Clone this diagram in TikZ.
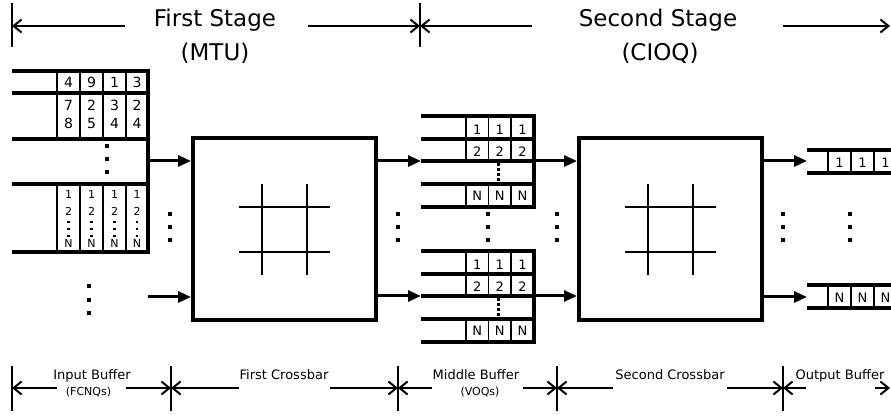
\documentclass[tikz,border=0pt]{standalone}
\usepackage{fontspec}
\setmainfont{DejaVu Sans}
\usetikzlibrary{arrows.meta}
\begin{document}
\begin{tikzpicture}[x=1pt,y=-1pt,
  thick line/.style={line width=4pt},
  cellbox/.style={draw,line width=1.2pt,fill=white},
  flow/.style={line width=3pt,-{Triangle[length=13pt,width=11pt]}},
  dimline/.style={line width=2pt,-{Straight Barb[length=8pt,width=13pt]}},
  ticks/.style={line width=2.2pt},
  grid line/.style={line width=2pt},
  sq/.style={fill=black,draw=none,minimum size=3.5pt,inner sep=0pt,outer sep=0pt},
  sqs/.style={fill=black,draw=none,minimum size=2.6pt,inner sep=0pt,outer sep=0pt},
  crossbar/.style={draw,line width=4pt,minimum width=183pt,minimum height=182pt,inner sep=0pt},
  big/.style={font=\fontsize{23}{28}\selectfont,inner sep=0pt,anchor=base},
  lab/.style={font=\fontsize{13}{15}\selectfont,inner sep=0pt,anchor=base},
  sublab/.style={font=\fontsize{11}{13}\selectfont,inner sep=0pt,anchor=base},
  dig/.style={font=\fontsize{14}{16}\selectfont,inner sep=0pt,anchor=base},
  mdig/.style={font=\fontsize{13}{15}\selectfont,inner sep=0pt,anchor=base},
  sdig/.style={font=\fontsize{11}{13}\selectfont,inner sep=0pt,anchor=base}
]
\useasboundingbox (0,0) rectangle (891,419);

% ---------------- top dimension ----------------
\node[big] (fs) at (215,27) {First Stage};
\node[big] (fsm) at (215,61) {(MTU)};
\node[big] (ss) at (658,27) {Second Stage};
\node[big] (ssm) at (660,61) {(CIOQ)};
\coordinate (tA) at (12,26);
\coordinate (tB) at (420,26);
\coordinate (tC) at (890,26);
\draw[ticks] (12,3) -- (12,47);
\draw[ticks] (420,3) -- (420,47);
\draw[dimline] (125,26) -- (tA);
\draw[dimline] (308,26) -- (tB);
\draw[dimline] (532,26) -- (tB);
\draw[dimline] (783,26) -- (tC);

% ---------------- input buffer ----------------
\foreach \x/\w in {57/23,80/23,103/23,126/22}{
  \draw[cellbox] (\x,71) rectangle ++(\w,22);
  \draw[cellbox] (\x,93) rectangle ++(\w,46);
  \draw[cellbox] (\x,184) rectangle ++(\w,68);
}
\foreach \x/\a in {68.5/4,91.5/9,114.5/1,137/3}{
  \node[dig] at (\x,87.5) {\a};
}
\foreach \x/\a/\b in {68.5/7/8,91.5/2/5,114.5/3/4,137/2/4}{
  \node[dig] at (\x,111) {\a};
  \node[dig] at (\x,129) {\b};
}
\foreach \x in {68.5,91.5,114.5,137}{
  \node[sdig] at (\x,199) {1};
  \node[sdig] at (\x,216) {2};
  \node[sqs] at (\x,222) {};
  \node[sqs] at (\x,229) {};
  \node[sqs] at (\x,236) {};
  \node[sdig] at (\x,247.5) {N};
}
\foreach \y in {93,139,184}{
  \draw[thick line] (12,\y) -- (148,\y);
}
\draw[thick line] (12,71) -- (148,71) -- (148,252) -- (12,252);
\foreach \y in {146,159,172}{ \node[sq] at (107,\y) {}; }
\foreach \y in {286,300,313}{ \node[sq] at (89,\y) {}; }

\coordinate (ib1) at (148,161);
\coordinate (ib2) at (148,297);

% ---------------- crossbars ----------------
\node[crossbar] (xb1) at (284.5,229.5) {};
\node[crossbar] (xb2) at (670.5,229.5) {};
\foreach \n in {xb1,xb2}{
  \draw[grid line] ([shift={(-45.5,-22.5)}]\n.center) -- ([shift={(45.5,-22.5)}]\n.center);
  \draw[grid line] ([shift={(-45.5,22.5)}]\n.center) -- ([shift={(45.5,22.5)}]\n.center);
  \draw[grid line] ([shift={(-22.5,-45.5)}]\n.center) -- ([shift={(-22.5,45.5)}]\n.center);
  \draw[grid line] ([shift={(22.5,-45.5)}]\n.center) -- ([shift={(22.5,45.5)}]\n.center);
}

\draw[flow] (ib1) -- (xb1.west |- ib1);
\draw[flow] (ib2) -- (xb1.west |- ib2);

% ---------------- middle buffers ----------------
\foreach \T in {116,251}{
  \foreach \x/\w in {466/22.5,488.5/22.5,511/23}{
    \draw[cellbox] (\x,\T) rectangle ++(\w,23);
    \draw[cellbox] (\x,\T+23) rectangle ++(\w,22);
    \draw[cellbox] (\x,\T+68) rectangle ++(\w,23);
  }
  \foreach \x in {477.25,499.75,522.5}{
    \node[mdig] at (\x,\T+18.5) {1};
    \node[mdig] at (\x,\T+41) {2};
    \node[mdig] at (\x,\T+84.5) {N};
  }
  \draw[line width=3pt,dash pattern=on 3pt off 2pt] (498,\T+47) -- (498,\T+67);
  \draw[thick line] (421,\T+23) -- (534,\T+23);
  \draw[thick line] (421,\T+45) -- (534,\T+45);
  \draw[thick line] (421,\T+68) -- (534,\T+68);
  \draw[thick line] (421,\T) -- (534,\T) -- (534,\T+91) -- (421,\T+91);
}
\coordinate (mi1) at (421,161);
\coordinate (mi2) at (421,296);
\coordinate (mo1) at (534,161);
\coordinate (mo2) at (534,296);
\draw[flow] (xb1.east |- mi1) -- (mi1);
\draw[flow] (xb1.east |- mi2) -- (mi2);
\draw[flow] (mo1) -- (xb2.west |- mo1);
\draw[flow] (mo2) -- (xb2.west |- mo2);

\foreach \x in {170,398,488,557,783,850}{
  \foreach \y in {214,227,240}{ \node[sq] at (\x,\y) {}; }
}

% ---------------- output buffers ----------------
\foreach \T/\a in {150/1,285/N}{
  \foreach \x in {828,851,874}{
    \draw[cellbox] (\x,\T) rectangle ++(23,23);
    \node[mdig] at (\x+11.5,\T+18) {\a};
  }
  \draw[thick line] (807,\T) -- (893,\T);
  \draw[thick line] (807,\T+23) -- (893,\T+23);
}
\coordinate (oi1) at (807,161);
\coordinate (oi2) at (807,297);
\draw[flow] (xb2.east |- oi1) -- (oi1);
\draw[flow] (xb2.east |- oi2) -- (oi2);

% ---------------- bottom dimension ----------------
\foreach \x in {12,171,398,557,783}{
  \draw[ticks] (\x,366) -- (\x,411);
}
\coordinate (b1) at (12,388);
\coordinate (b2) at (171,388);
\coordinate (b3) at (398,388);
\coordinate (b4) at (557,388);
\coordinate (b5) at (783,388);
\coordinate (b6) at (890,388);
\node[lab] (l1) at (92,379) {Input Buffer};
\node[sublab] (l1s) at (88.5,395) {(FCNQs)};
\node[lab] (l2) at (284,379) {First Crossbar};
\node[lab] (l3) at (476,379) {Middle Buffer};
\node[sublab] (l3s) at (480,395) {(VOQs)};
\node[lab] (l4) at (670,379) {Second Crossbar};
\node[lab] (l5) at (840,379) {Output Buffer};
\draw[dimline] (57,388) -- (b1);
\draw[dimline] (126,388) -- (b2);
\draw[dimline] (239,388) -- (b2);
\draw[dimline] (330,388) -- (b3);
\draw[dimline] (432,388) -- (b3);
\draw[dimline] (523,388) -- (b4);
\draw[dimline] (613,388) -- (b4);
\draw[dimline] (727,388) -- (b5);
\draw[dimline] (806,388) -- (b5);
\draw[dimline] (875,388) -- (b6);
\end{tikzpicture}
\end{document}
